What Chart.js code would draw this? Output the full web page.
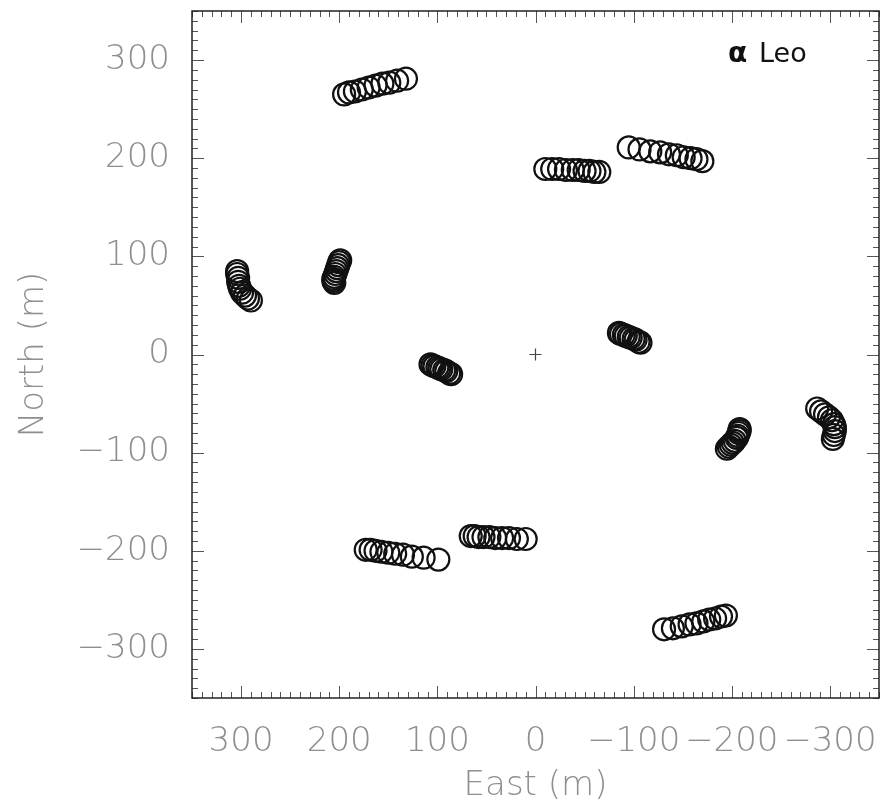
<!DOCTYPE html>
<html>
<head>
<meta charset="utf-8">
<script src="https://cdn.jsdelivr.net/npm/chart.js@4.4.0/dist/chart.umd.min.js"></script>
<style>
  html, body { margin: 0; padding: 0; background: #fff; overflow: hidden; }
  #wrap { width: 880px; height: 807px; position: relative; }
  #chart { display: block; }
</style>
</head>
<body>
<div id="wrap"><canvas id="chart"></canvas></div>
<script>
// ---------- data: [East (m), North (m)] per cluster ----------
const clusterA = [[195,265],[190,267],[184,268],[177,270],[170,272],[163,274],[156,276],[149,277],[141,279],[132,281]];
const clusterB = [[-10,189],[-17,189],[-24,189],[-31,188],[-38,188],[-44,188],[-50,187],[-55,187],[-60,186],[-65,186]];
const clusterC = [[-95,211],[-106,209],[-117,207],[-127,206],[-136,204],[-144,203],[-151,201],[-158,200],[-164,199],[-170,197]];
const clusterD = [[304,85],[304,82],[303,78],[303,74],[302,70],[301,67],[299,63],[296,60],[293,57],[290,55]];
const clusterE = [[199,96],[200,94],[201,91],[202,88],[203,85],[204,82],[205,79],[206,77],[206,75],[205,73]];
const clusterF = [[107,-10],[105,-11],[103,-12],[100,-13],[98,-14],[96,-15],[93,-16],[91,-17],[88,-19],[86,-20]];
const clusterG = [[-85,22],[-87,21],[-90,20],[-92,19],[-95,18],[-97,17],[-100,16],[-102,15],[-105,13],[-107,12]];
const clusterH = [[-208,-76],[-208,-78],[-207,-80],[-206,-83],[-205,-85],[-203,-88],[-201,-90],[-199,-92],[-197,-94],[-195,-96]];
const clusterI = [[-287,-55],[-291,-58],[-295,-61],[-299,-64],[-302,-67],[-304,-71],[-305,-74],[-305,-78],[-304,-82],[-303,-86]];
const clusterJ = [[173,-199],[168,-199],[163,-200],[157,-201],[150,-202],[143,-203],[135,-204],[126,-206],[114,-207],[99,-209]];
const clusterK = [[66,-185],[62,-185],[58,-186],[53,-186],[47,-186],[41,-187],[34,-187],[27,-187],[19,-188],[10,-188]];
const clusterL = [[-131,-280],[-140,-279],[-149,-277],[-157,-275],[-164,-274],[-171,-272],[-177,-270],[-183,-269],[-189,-267],[-194,-266]];
const centre = [[0,0]];

const clusters = [clusterA, clusterB, clusterC, clusterD, clusterE, clusterF,
                  clusterG, clusterH, clusterI, clusterJ, clusterK, clusterL];
const majorTicks = [-300, -200, -100, 0, 100, 200, 300];
const AXIS_MIN = -350, AXIS_MAX = 350;
const STAR = "Leo";

// ---------- helpers ----------
const toPts = (arr) => arr.map(([x, y]) => ({ x, y }));
const fmtTick = (v) => (v < 0 ? "\u2212" + Math.abs(v) : String(v));
const LABEL_FONT = { family: "'DejaVu Sans', sans-serif", size: 34, weight: 200 };
const GREY = "#8f8f8f";
const noPad = (s) => { s.paddingLeft = 0; s.paddingRight = 0; s.paddingTop = 0; s.paddingBottom = 0; };

// inward ticks on all four sides + frame + star label
const frameTicks = {
  id: "frameTicks",
  afterDraw(chart) {
    const { ctx, chartArea: a, scales } = chart;
    ctx.save();
    ctx.strokeStyle = "#555";
    ctx.lineWidth = 1;
    ctx.beginPath();
    for (let v = AXIS_MIN; v <= AXIS_MAX; v += 10) {
      const len = v % 100 === 0 ? 12 : 6;
      const px = Math.round(scales.x.getPixelForValue(v)) + 0.5;
      ctx.moveTo(px, a.bottom); ctx.lineTo(px, a.bottom - len);
      ctx.moveTo(px, a.top); ctx.lineTo(px, a.top + len);
      const py = Math.round(scales.y.getPixelForValue(v)) + 0.5;
      ctx.moveTo(a.left, py); ctx.lineTo(a.left + len, py);
      ctx.moveTo(a.right, py); ctx.lineTo(a.right - len, py);
    }
    ctx.stroke();
    ctx.strokeStyle = "#222";
    ctx.lineWidth = 1.5;
    ctx.strokeRect(a.left, a.top, a.right - a.left, a.bottom - a.top);

    // star name
    ctx.fillStyle = "#111";
    ctx.textBaseline = "alphabetic";
    const x0 = a.right - 151, y0 = a.top + 51;
    ctx.font = "bold 28px 'DejaVu Sans'";
    ctx.fillText("\u03b1", x0, y0);
    ctx.font = "27px 'DejaVu Sans'";
    ctx.fillText(STAR, x0 + 31, y0);
    ctx.restore();
  },
};

document.addEventListener("DOMContentLoaded", () => {
  const datasets = clusters.map((c) => ({
    data: toPts(c),
    pointStyle: "circle",
    pointRadius: 11,
    pointHoverRadius: 11,
    borderWidth: 2.2,
    borderColor: "#111",
    backgroundColor: "rgba(0,0,0,0)",
  }));
  datasets.push({
    data: toPts(centre),
    pointStyle: "cross",
    pointRadius: 6,
    borderWidth: 1.2,
    borderColor: "#444",
  });

  new Chart(document.getElementById("chart"), {
    type: "scatter",
    data: { datasets },
    options: {
      responsive: true,
      maintainAspectRatio: false,
      animation: false,
      layout: { autoPadding: false, padding: { top: 11, right: 1, left: 0, bottom: 0 } },
      plugins: { legend: { display: false }, tooltip: { enabled: false } },
      scales: {
        x: {
          type: "linear",
          reverse: true,
          min: AXIS_MIN,
          max: AXIS_MAX,
          grid: { display: false },
          border: { display: false },
          afterBuildTicks: (s) => { s.ticks = majorTicks.map((v) => ({ value: v })); },
          afterFit: (s) => { s.height = 109; noPad(s); },
          ticks: {
            autoSkip: false,
            maxRotation: 0,
            padding: 16,
            color: GREY,
            font: LABEL_FONT,
            callback: fmtTick,
          },
          title: {
            display: true,
            text: "East (m)",
            color: GREY,
            font: LABEL_FONT,
            padding: { top: 0, bottom: 0 },
          },
        },
        y: {
          type: "linear",
          min: AXIS_MIN,
          max: AXIS_MAX,
          grid: { display: false },
          border: { display: false },
          afterBuildTicks: (s) => { s.ticks = majorTicks.map((v) => ({ value: v })); },
          afterFit: (s) => { s.width = 192; noPad(s); },
          ticks: {
            autoSkip: false,
            padding: 14,
            color: GREY,
            font: LABEL_FONT,
            callback: fmtTick,
          },
          title: {
            display: true,
            text: "North (m)",
            color: GREY,
            font: LABEL_FONT,
            padding: { top: 14, bottom: 10 },
          },
        },
      },
    },
    plugins: [frameTicks],
  });
});
</script>
</body>
</html>
